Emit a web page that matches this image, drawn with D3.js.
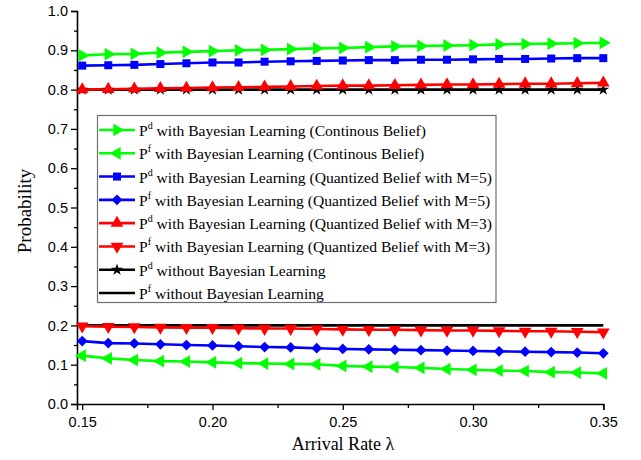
<!DOCTYPE html>
<html>
<head>
<meta charset="utf-8">
<script src="https://cdn.jsdelivr.net/npm/d3@7"></script>
<style>
  html, body { margin: 0; padding: 0; background: #fff; }
  svg { display: block; }
</style>
</head>
<body>
<svg id="chart" width="641" height="460"></svg>
<script>
// Arrival rates (lambda) at which every curve is evaluated
const lambdas = [0.15, 0.16, 0.17, 0.18, 0.19, 0.20, 0.21, 0.22, 0.23, 0.24, 0.25,
                 0.26, 0.27, 0.28, 0.29, 0.30, 0.31, 0.32, 0.33, 0.34, 0.35];

// Detection probability P^d
const pdContinuous = [0.887, 0.890, 0.891, 0.894, 0.896, 0.898, 0.900, 0.901, 0.903, 0.905, 0.906,
                      0.908, 0.910, 0.911, 0.912, 0.913, 0.915, 0.916, 0.917, 0.918, 0.919];
const pdQuantM5   = [0.861, 0.862, 0.863, 0.865, 0.867, 0.869, 0.869, 0.871, 0.872, 0.873, 0.874,
                      0.875, 0.875, 0.876, 0.876, 0.877, 0.878, 0.878, 0.879, 0.880, 0.880];
const pdQuantM3   = [0.800, 0.801, 0.802, 0.803, 0.804, 0.805, 0.806, 0.807, 0.808, 0.809, 0.810,
                      0.810, 0.811, 0.812, 0.813, 0.813, 0.814, 0.815, 0.815, 0.816, 0.817];
const pdNoLearning = [0.80, 0.80, 0.80, 0.80, 0.80, 0.80, 0.80, 0.80, 0.80, 0.80, 0.80,
                      0.80, 0.80, 0.80, 0.80, 0.80, 0.80, 0.80, 0.80, 0.80, 0.80];

// False alarm probability P^f
const pfContinuous = [0.123, 0.116, 0.112, 0.109, 0.108, 0.106, 0.104, 0.103, 0.102, 0.101, 0.097,
                      0.095, 0.094, 0.092, 0.089, 0.087, 0.085, 0.084, 0.081, 0.080, 0.078];
const pfQuantM5   = [0.160, 0.155, 0.154, 0.152, 0.150, 0.149, 0.147, 0.145, 0.144, 0.142, 0.140,
                      0.139, 0.138, 0.137, 0.136, 0.135, 0.134, 0.133, 0.132, 0.131, 0.129];
const pfQuantM3   = [0.198, 0.197, 0.196, 0.195, 0.194, 0.194, 0.193, 0.192, 0.192, 0.191, 0.190,
                      0.189, 0.189, 0.188, 0.187, 0.187, 0.186, 0.185, 0.185, 0.184, 0.183];
const pfNoLearning = [0.20, 0.20, 0.20, 0.20, 0.20, 0.20, 0.20, 0.20, 0.20, 0.20, 0.20,
                      0.20, 0.20, 0.20, 0.20, 0.20, 0.20, 0.20, 0.20, 0.20, 0.20];

// Axis tick values
const xTicks = [0.15, 0.20, 0.25, 0.30, 0.35];
const xMinorTicks = [0.175, 0.225, 0.275, 0.325];
const yTicks = [0.0, 0.1, 0.2, 0.3, 0.4, 0.5, 0.6, 0.7, 0.8, 0.9, 1.0];
const yMinorTicks = [0.05, 0.15, 0.25, 0.35, 0.45, 0.55, 0.65, 0.75, 0.85, 0.95];

// Series: superscript, legend text, values, colour, marker
const series = [
  { sup: "d", label: " with Bayesian Learning (Continous Belief)", values: pdContinuous, color: "#00ff00", marker: "triRight" },
  { sup: "f", label: " with Bayesian Learning (Continous Belief)", values: pfContinuous, color: "#00ff00", marker: "triLeft" },
  { sup: "d", label: " with Bayesian Learning (Quantized Belief with M=5)", values: pdQuantM5, color: "#0000ff", marker: "square" },
  { sup: "f", label: " with Bayesian Learning (Quantized Belief with M=5)", values: pfQuantM5, color: "#0000ff", marker: "diamond" },
  { sup: "d", label: " with Bayesian Learning (Quantized Belief with M=3)", values: pdQuantM3, color: "#ff0000", marker: "triUp" },
  { sup: "f", label: " with Bayesian Learning (Quantized Belief with M=3)", values: pfQuantM3, color: "#ff0000", marker: "triDown" },
  { sup: "d", label: " without Bayesian Learning", values: pdNoLearning, color: "#000000", marker: "star" },
  { sup: "f", label: " without Bayesian Learning", values: pfNoLearning, color: "#000000", marker: null }
];

const svg = d3.select("#chart");

const x = d3.scaleLinear().domain([0.148, 0.35]).range([77, 603.3]);
const y = d3.scaleLinear().domain([0, 1]).range([404, 11]);

// Marker shapes
const markerShapes = {
  triUp:    { type: d3.symbolTriangle, size: 70, rot: 0 },
  triRight: { type: d3.symbolTriangle, size: 70, rot: 90 },
  triDown:  { type: d3.symbolTriangle, size: 70, rot: 180 },
  triLeft:  { type: d3.symbolTriangle, size: 70, rot: -90 },
  square:   { type: d3.symbolSquare,   size: 64, rot: 0 },
  diamond:  { type: d3.symbolSquare,   size: 58, rot: 45 },
  star:     { type: d3.symbolStar,     size: 45, rot: 0 }
};

function drawMarker(g, kind, cx, cy, color) {
  const m = markerShapes[kind];
  g.append("path")
    .attr("d", d3.symbol().type(m.type).size(m.size)())
    .attr("transform", `translate(${cx},${cy}) rotate(${m.rot})`)
    .attr("fill", color)
    .attr("stroke", "none");
}

// Axes
const axisFont = "'Liberation Sans', Arial, sans-serif";

svg.append("g")
  .attr("transform", "translate(77,0)")
  .call(d3.axisLeft(y).tickValues(yTicks).tickSize(6).tickPadding(3).tickFormat(d3.format(".1f")));
svg.append("g")
  .attr("transform", "translate(77,0)")
  .call(d3.axisLeft(y).tickValues(yMinorTicks).tickSize(3).tickFormat(""))
  .call(g => g.select(".domain").remove());

svg.append("g")
  .attr("transform", "translate(0,404)")
  .call(d3.axisBottom(x).tickValues(xTicks).tickSize(6).tickPadding(7).tickFormat(d3.format(".2f")));
svg.append("g")
  .attr("transform", "translate(0,404)")
  .call(d3.axisBottom(x).tickValues(xMinorTicks).tickSize(4).tickFormat(""))
  .call(g => g.select(".domain").remove());

svg.selectAll(".domain").attr("stroke", "#000").attr("stroke-width", 1.6);
svg.selectAll(".tick line").attr("stroke", "#000").attr("stroke-width", 1.3);
svg.selectAll(".tick text")
  .attr("font-family", axisFont)
  .attr("font-size", 14.5)
  .attr("fill", "#000");

// Axis titles
svg.append("text")
  .attr("x", 343)
  .attr("y", 450)
  .attr("text-anchor", "middle")
  .attr("font-family", "'Liberation Serif', 'Times New Roman', serif")
  .attr("font-size", 18)
  .text("Arrival Rate λ");

svg.append("text")
  .attr("transform", "translate(31,211) rotate(-90)")
  .attr("text-anchor", "middle")
  .attr("font-family", "'Liberation Serif', 'Times New Roman', serif")
  .attr("font-size", 19)
  .text("Probability");

// Curves
const line = d3.line()
  .x((d, i) => x(lambdas[i]))
  .y(d => y(d));

const plot = svg.append("g");
// drawn back to front so the black reference lines sit on top of the coloured ones
series.slice().reverse().forEach(s => {
  plot.append("path")
    .datum(s.values)
    .attr("d", line)
    .attr("fill", "none")
    .attr("stroke", s.color)
    .attr("stroke-width", 2.6);
});
series.slice().reverse().forEach(s => {
  if (!s.marker) return;
  const g = plot.append("g");
  s.values.forEach((v, i) => drawMarker(g, s.marker, x(lambdas[i]), y(v), s.color));
});

// Legend
const legend = svg.append("g");
legend.append("rect")
  .attr("x", 97.5)
  .attr("y", 115.5)
  .attr("width", 398.5)
  .attr("height", 187)
  .attr("fill", "#fff")
  .attr("stroke", "#6e6e6e")
  .attr("stroke-width", 1.2);

const rowY = d3.scaleLinear().domain([0, 7]).range([130, 293]);
series.forEach((s, i) => {
  const cy = rowY(i);
  legend.append("line")
    .attr("x1", 99).attr("x2", 135)
    .attr("y1", cy).attr("y2", cy)
    .attr("stroke", s.color)
    .attr("stroke-width", 2.6);
  if (s.marker) drawMarker(legend, s.marker, 117, cy, s.color);
  const t = legend.append("text")
    .attr("x", 139)
    .attr("y", cy + 6)
    .attr("font-family", "'Liberation Serif', 'Times New Roman', serif")
    .attr("font-size", 15.6)
    .attr("fill", "#000");
  t.append("tspan").text("P");
  t.append("tspan").attr("dy", -7).attr("font-size", 10).text(s.sup);
  t.append("tspan").attr("dy", 7).text(s.label);
});
</script>
</body>
</html>
